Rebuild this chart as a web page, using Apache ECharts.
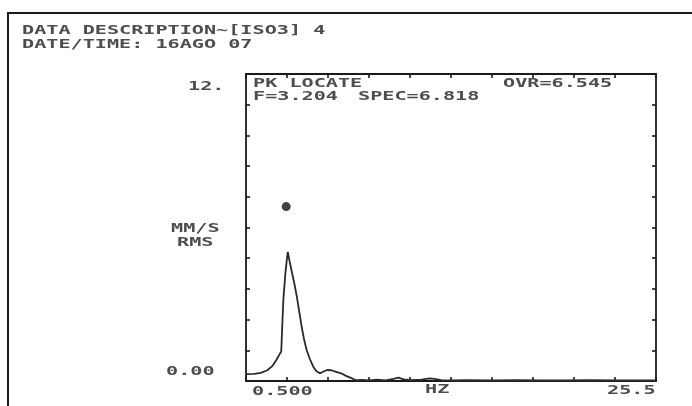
<!DOCTYPE html>
<html>
<head>
<meta charset="utf-8">
<script src="https://cdn.jsdelivr.net/npm/echarts@6/dist/echarts.min.js"></script>
<style>
html,body{margin:0;padding:0;background:#fff;}
#chart{width:692px;height:406px;}
</style>
</head>
<body>
<div id="chart"></div>
<script>
// ---- data ----
var freqHz = [0.5, 1.0, 1.4, 1.8, 2.1, 2.35, 2.55, 2.65, 2.7, 2.78, 2.9, 3.0, 3.05, 3.15, 3.3, 3.45, 3.6, 3.75, 3.9, 4.05, 4.2, 4.4, 4.6, 4.8, 5.0, 5.2, 5.45, 5.7, 6.0, 6.3, 6.6, 6.9, 7.2, 7.6, 8.0, 8.5, 9.0, 9.5, 9.8, 10.1, 10.6, 11.2, 11.7, 12.0, 12.4, 13.0, 14.0, 15.5, 17.0, 18.5, 20.0, 21.5, 23.0, 24.5, 25.5];
var velocityRms = [0.27, 0.28, 0.32, 0.42, 0.58, 0.82, 1.05, 1.15, 2.0, 3.2, 4.2, 4.8, 5.05, 4.7, 4.25, 3.8, 3.3, 2.7, 2.1, 1.6, 1.2, 0.85, 0.56, 0.38, 0.3, 0.36, 0.43, 0.42, 0.36, 0.3, 0.2, 0.12, 0.03, 0.04, 0.02, 0.05, 0.02, 0.08, 0.13, 0.06, 0.03, 0.05, 0.1, 0.08, 0.03, 0.02, 0.03, 0.02, 0.03, 0.02, 0.02, 0.03, 0.02, 0.02, 0.02];
var peakMarker = [[2.95, 6.818]];
var xMin = 0.5, xMax = 25.5, xStep = 2.5;
var yMin = 0, yMax = 12, yStep = 1.2;
var headerLines = ["DATA DESCRIPTION~[ISO3] 4", "DATE/TIME: 16AGO 07"];
var plotTexts = ["PK LOCATE", "F=3.204", "SPEC=6.818", "OVR=6.545"];
var yTickLabels = ["12.", "0.00"];
var yUnitLines = ["MM/S", "RMS"];
var xTickLabels = ["0.500", "25.5"];
var xUnit = "HZ";

var chart = echarts.init(document.getElementById('chart'), null, {renderer: 'canvas'});
var ink = '#1a1a1a';
var txt = '#4d4d4d';
var FONT = 'bold 13px "DejaVu Sans Mono"';
var SX = 1.55;

function label(text, x, y) {
  return {
    type: 'text', x: x, y: y, scaleX: SX, silent: true,
    style: {text: text, font: FONT, fill: txt, textAlign: 'left', align: 'left',
            textVerticalAlign: 'middle', verticalAlign: 'middle'}
  };
}

var lineData = freqHz.map(function (f, i) { return [f, velocityRms[i]]; });

function axisCommon(extra) {
  return Object.assign({
    type: 'value',
    axisLine: {show: true, onZero: false, lineStyle: {color: ink, width: 1.8}},
    axisTick: {show: true, inside: true, length: 4, lineStyle: {color: ink, width: 1.6}},
    axisLabel: {show: false},
    splitLine: {show: false}
  }, extra);
}

chart.setOption({
  animation: false,
  backgroundColor: '#fff',
  grid: {left: 246, top: 74, right: 36, bottom: 25, containLabel: false},
  xAxis: [
    axisCommon({position: 'bottom', min: xMin, max: xMax, interval: xStep}),
    axisCommon({position: 'top', min: xMin, max: xMax, interval: xStep})
  ],
  yAxis: [
    axisCommon({position: 'left', min: yMin, max: yMax, interval: yStep}),
    axisCommon({position: 'right', min: yMin, max: yMax, interval: yStep})
  ],
  series: [
    {
      type: 'line', xAxisIndex: 0, yAxisIndex: 0, data: lineData,
      showSymbol: false, smooth: false,
      lineStyle: {color: '#2a2a2a', width: 1.8}
    },
    {
      type: 'scatter', xAxisIndex: 0, yAxisIndex: 0, data: peakMarker,
      symbol: 'circle', symbolSize: 9,
      itemStyle: {color: '#111'}
    }
  ],
  graphic: [
    {type: 'rect', silent: true, shape: {x: 8, y: 13, width: 720, height: 430},
     style: {fill: 'none', stroke: ink, lineWidth: 2}},
    label(headerLines[0], 22, 31),
    label(headerLines[1], 22, 45),
    label(plotTexts[0], 253, 84),
    label(plotTexts[1], 253, 97),
    label(plotTexts[2], 358, 97),
    label(plotTexts[3], 503, 84),
    label(yTickLabels[0], 188, 87),
    label(yTickLabels[1], 166, 372),
    label(yUnitLines[0], 171, 229),
    label(yUnitLines[1], 177, 243),
    label(xTickLabels[0], 252, 392),
    label(xUnit, 425, 390),
    label(xTickLabels[1], 607, 391)
  ]
});
</script>
</body>
</html>
